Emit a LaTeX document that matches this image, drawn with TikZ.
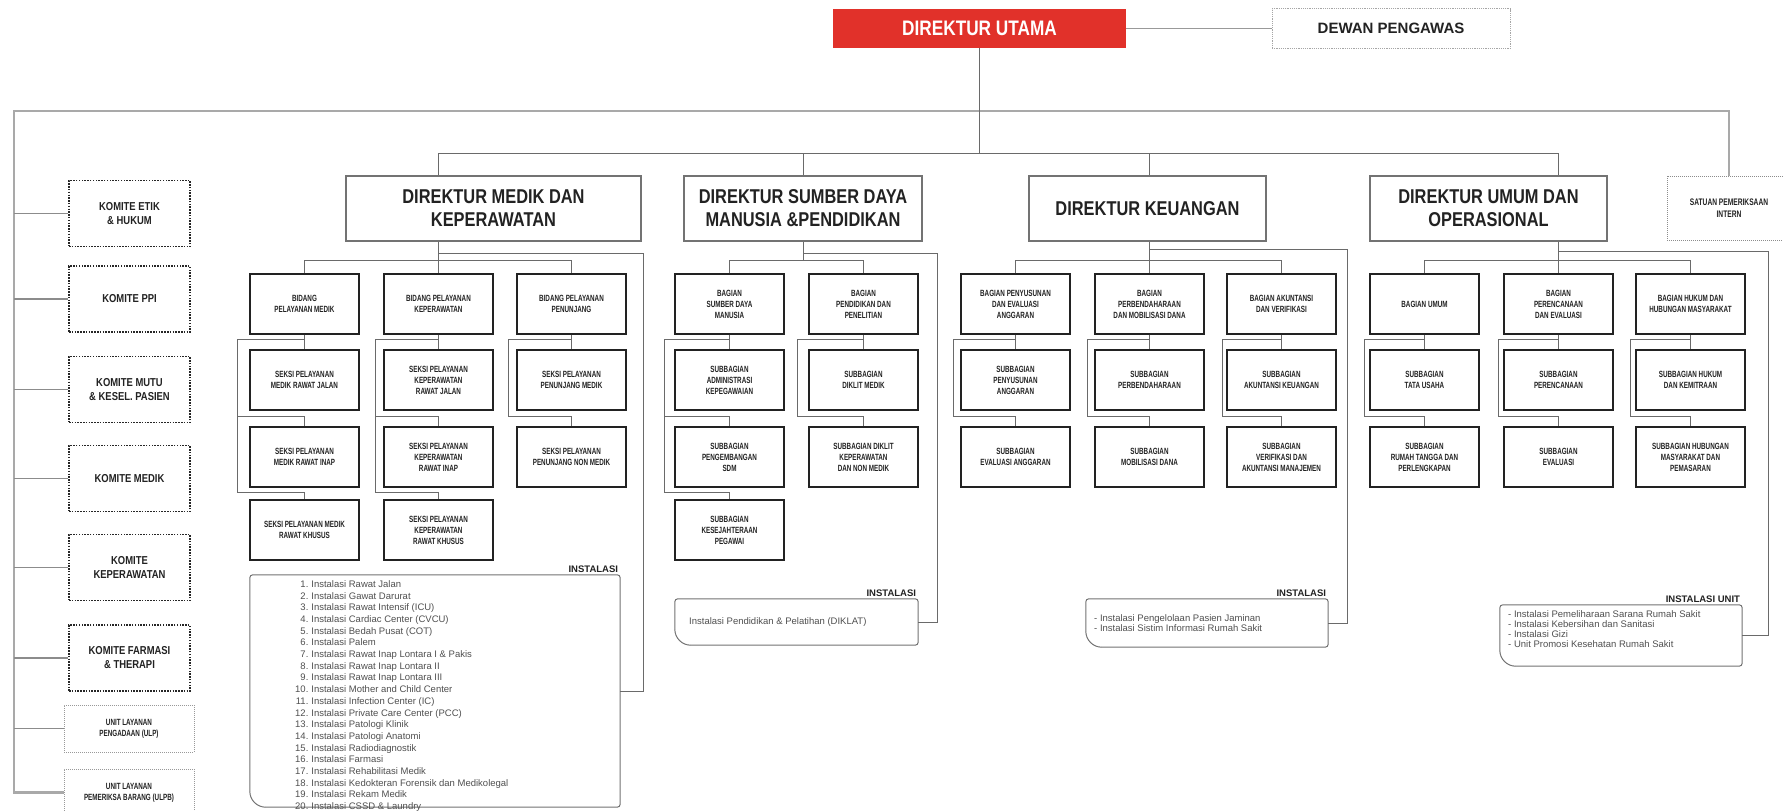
\documentclass[tikz,border=0pt]{standalone}
\usepackage{fontspec}
\setmainfont{Liberation Sans}
\newfontfamily\condfont[FakeStretch=0.82]{Liberation Sans}
\newfontfamily\narrowfont[FakeStretch=0.7]{Liberation Sans}
\usetikzlibrary{calc}
\definecolor{utama}{HTML}{E1312A}
\definecolor{ink}{HTML}{222222}
\definecolor{wire}{HTML}{6A6A6A}
\definecolor{trunkc}{HTML}{A9A9A9}
\definecolor{listc}{HTML}{505050}
% frame of an installation box: big round corner bottom left
\newcommand{\instframe}[1]{%
  \draw[iframe, rounded corners=3pt] ([xshift=16pt]#1.south west) -- (#1.south east)
    -- (#1.north east) -- (#1.north west) -- ([yshift=16pt]#1.south west);
  \draw[iframe] ([yshift=16pt]#1.south west) arc[start angle=180, end angle=270, radius=16pt];}

\begin{document}
\begin{tikzpicture}[
  x=1pt, y=-1pt,
  chief/.style={fill=utama, text=white, minimum width=293pt, minimum height=39pt,
                font=\condfont\bfseries\fontsize{21}{24}\selectfont},
  board/.style={draw=black!35, dash pattern=on 1.2pt off 1pt, line width=1pt,
                minimum width=238pt, minimum height=40pt, text=ink,
                font=\bfseries\fontsize{15}{18}\selectfont},
  dir/.style={draw=black!55, line width=1.3pt, minimum height=65pt, align=center,
              text=ink, font=\condfont\bfseries\fontsize{20}{23}\selectfont},
  unit/.style={draw=ink, line width=1.3pt, minimum width=109pt, minimum height=60pt,
               align=center, inner sep=2pt, text=ink,
               font=\narrowfont\bfseries\fontsize{9}{11}\selectfont},
  komite/.style={draw=black!85, line width=1.6pt, dash pattern=on 1.5pt off 1.3pt,
                 minimum width=121pt, minimum height=66pt, align=center, text=ink,
                 font=\condfont\bfseries\fontsize{11.5}{14}\selectfont},
  ulp/.style={draw=black!40, dash pattern=on 1pt off 1pt, line width=0.8pt,
              minimum width=130pt, minimum height=47pt, align=center, text=ink,
              font=\narrowfont\bfseries\fontsize{9}{11}\selectfont},
  spibox/.style={draw=black!45, dash pattern=on 1pt off 1pt, line width=1pt,
                 minimum width=124pt, minimum height=64pt, align=center, text=ink,
                 font=\narrowfont\bfseries\fontsize{9.5}{12}\selectfont},
  ibox/.style={inner sep=0pt},
  iframe/.style={draw=black!55, line width=1pt},
  ilabel/.style={font=\bfseries\fontsize{9.5}{11}\selectfont, text=ink, inner sep=2pt},
  ilist/.style={font=\fontsize{9.5}{10.3}\selectfont, text=listc, align=left, inner sep=0pt},
  wire/.style={draw=wire, line width=1pt},
  trunk/.style={draw=trunkc, line width=2.4pt},
  twig/.style={draw=black!45, line width=1.4pt},
]
\fill[white] (0,0) rectangle (1783,811);
\useasboundingbox (0,0) rectangle (1783,811);

\coordinate (tl) at (14,111);
\coordinate (tr) at (1729,111);
\coordinate (top) at (0,153);
\coordinate (bar) at (0,260);

% ============================================================ TOP
\node[chief] (du) at (979.5,28.5) {DIREKTUR UTAMA};
\node[board] (dp) at (1391,28.5) {DEWAN PENGAWAS};
\draw[wire, draw=black!40] (du) -- (dp);

\node[dir, minimum width=295pt] (dmk) at (493.5,208.5) {DIREKTUR MEDIK DAN\\KEPERAWATAN};
\node[dir, minimum width=238pt] (dsd) at (803,208.5) {DIREKTUR SUMBER DAYA\\MANUSIA \&PENDIDIKAN};
\node[dir, minimum width=237pt] (dku) at (1147.5,208.5) {DIREKTUR KEUANGAN};
\node[dir, minimum width=237pt] (dum) at (1488.5,208.5) {DIREKTUR UMUM DAN\\OPERASIONAL};
\node[spibox] (spi) at (1729,208) {SATUAN PEMERIKSAAN\\INTERN};

% ============================================================ KOMITE
\node[komite] (ketik)  at (129.5,213.5) {KOMITE ETIK\\\& HUKUM};
\node[komite] (kppi)   at (129.5,299)   {KOMITE PPI};
\node[komite] (kmutu)  at (129.5,389.5) {KOMITE MUTU\\\& KESEL. PASIEN};
\node[komite] (kmedik) at (129.5,478.5) {KOMITE MEDIK};
\node[komite] (kkep)   at (129.5,567.5) {KOMITE\\KEPERAWATAN};
\node[komite] (kfar)   at (129.5,658)   {KOMITE FARMASI\\\& THERAPI};
\node[ulp] (kulp)  at (129,728.5) {UNIT LAYANAN\\PENGADAAN (ULP)};
\node[ulp] (kulpb) at (129,792.5) {UNIT LAYANAN\\PEMERIKSA BARANG (ULPB)};

\draw[trunk] (kulpb.west) -| (tl) -- (tr) -- (spi.north);
\draw[twig] (tl |- ketik.west) -- (ketik.west);
\draw[twig] (tl |- kppi.west) -- (kppi.west);
\draw[twig] (tl |- kmutu.west) -- (kmutu.west);
\draw[twig] (tl |- kmedik.west) -- (kmedik.west);
\draw[twig] (tl |- kkep.west) -- (kkep.west);
\draw[twig] (tl |- kfar.west) -- (kfar.west);
\draw[twig] (tl |- kulp.west) -- (kulp.west);

% ============================================================ MEDIK DAN KEPERAWATAN
\node[unit] (bpm) at (304.5,304) {BIDANG\\PELAYANAN MEDIK};
\node[unit] (bpk) at (438.5,304) {BIDANG PELAYANAN\\KEPERAWATAN};
\node[unit] (bpn) at (571.5,304) {BIDANG PELAYANAN\\PENUNJANG};

\node[unit] (s1) at (304.5,380) {SEKSI PELAYANAN\\MEDIK RAWAT JALAN};
\node[unit] (s2) at (304.5,457) {SEKSI PELAYANAN\\MEDIK RAWAT INAP};
\node[unit] (s3) at (304.5,530) {SEKSI PELAYANAN MEDIK\\RAWAT KHUSUS};
\node[unit] (k1) at (438.5,380) {SEKSI PELAYANAN\\KEPERAWATAN\\RAWAT JALAN};
\node[unit] (k2) at (438.5,457) {SEKSI PELAYANAN\\KEPERAWATAN\\RAWAT INAP};
\node[unit] (k3) at (438.5,530) {SEKSI PELAYANAN\\KEPERAWATAN\\RAWAT KHUSUS};
\node[unit] (n1) at (571.5,380) {SEKSI PELAYANAN\\PENUNJANG MEDIK};
\node[unit] (n2) at (571.5,457) {SEKSI PELAYANAN\\PENUNJANG NON MEDIK};

\coordinate (sM1) at (237,416);  \coordinate (sM2) at (237,492);
\coordinate (sK1) at (375,416);  \coordinate (sK2) at (375,492);
\coordinate (sN)  at (508,416);
\coordinate (rM)  at (643,253);

\draw[wire] (bpm) -- (s1);
\draw[wire] ([yshift=10pt]s1.north) -| (sM2) -| (s3.north);
\draw[wire] (sM1) -| (s2.north);
\draw[wire] (bpk) -- (k1);
\draw[wire] ([yshift=10pt]k1.north) -| (sK2) -| (k3.north);
\draw[wire] (sK1) -| (k2.north);
\draw[wire] (bpn) -- (n1);
\draw[wire] ([yshift=10pt]n1.north) -| (sN) -| (n2.north);

\node[ibox, minimum width=370pt, minimum height=232pt] (iM) at (435,691) {};
\instframe{iM}
\node[ilabel, anchor=south east] (iMl) at (iM.north east) {INSTALASI};
\node[ilist, anchor=north west, font=\fontsize{9.5}{11.7}\selectfont] (iMt) at (295,579) {%
  \begin{tabular}{@{}r@{\hspace{3pt}}l@{}}
  1. & Instalasi Rawat Jalan\\
  2. & Instalasi Gawat Darurat\\
  3. & Instalasi Rawat Intensif (ICU)\\
  4. & Instalasi Cardiac Center (CVCU)\\
  5. & Instalasi Bedah Pusat (COT)\\
  6. & Instalasi Palem\\
  7. & Instalasi Rawat Inap Lontara I \& Pakis\\
  8. & Instalasi Rawat Inap Lontara II\\
  9. & Instalasi Rawat Inap Lontara III\\
  10. & Instalasi Mother and Child Center\\
  11. & Instalasi Infection Center (IC)\\
  12. & Instalasi Private Care Center (PCC)\\
  13. & Instalasi Patologi Klinik\\
  14. & Instalasi Patologi Anatomi\\
  15. & Instalasi Radiodiagnostik\\
  16. & Instalasi Farmasi\\
  17. & Instalasi Rehabilitasi Medik\\
  18. & Instalasi Kedokteran Forensik dan Medikolegal\\
  19. & Instalasi Rekam Medik\\
  20. & Instalasi CSSD \& Laundry
  \end{tabular}};

\draw[wire] (bpk.north |- dmk.south) -- (bpk);
\draw[wire] (bpm.north) |- (bpn.north |- bar) -- (bpn.north);
\draw[wire] (bpk.north |- rM) -- (rM) |- (iM.east);

% ============================================================ SUMBER DAYA MANUSIA
\node[unit] (bsd) at (729.5,304) {BAGIAN\\SUMBER DAYA\\MANUSIA};
\node[unit] (bpp) at (863.5,304) {BAGIAN\\PENDIDIKAN DAN\\PENELITIAN};

\node[unit] (a1) at (729.5,380) {SUBBAGIAN\\ADMINISTRASI\\KEPEGAWAIAN};
\node[unit] (a2) at (729.5,457) {SUBBAGIAN\\PENGEMBANGAN\\SDM};
\node[unit] (a3) at (729.5,530) {SUBBAGIAN\\KESEJAHTERAAN\\PEGAWAI};
\node[unit] (d1) at (863.5,380) {SUBBAGIAN\\DIKLIT MEDIK};
\node[unit] (d2) at (863.5,457) {SUBBAGIAN DIKLIT\\KEPERAWATAN\\DAN NON MEDIK};

\coordinate (sA1) at (664,416);  \coordinate (sA2) at (664,492);
\coordinate (sD)  at (797,416);
\coordinate (rS)  at (937,253);

\draw[wire] (bsd) -- (a1);
\draw[wire] ([yshift=10pt]a1.north) -| (sA2) -| (a3.north);
\draw[wire] (sA1) -| (a2.north);
\draw[wire] (bpp) -- (d1);
\draw[wire] ([yshift=10pt]d1.north) -| (sD) -| (d2.north);

\node[ibox, minimum width=243pt, minimum height=46pt] (iS) at (796.5,622) {};
\instframe{iS}
\node[ilabel, anchor=south east] (iSl) at (iS.north east) {INSTALASI};
\node[ilist, anchor=west] (iSt) at (689,622) {Instalasi Pendidikan \& Pelatihan (DIKLAT)};

\draw[wire] (dsd) -- (dsd |- bar);
\draw[wire] (bsd.north) |- (bpp.north |- bar) -- (bpp.north);
\draw[wire] (dsd.south |- rS) -- (rS) |- (iS.east);

% ============================================================ KEUANGAN
\node[unit] (bpa) at (1015.5,304) {BAGIAN PENYUSUNAN\\DAN EVALUASI\\ANGGARAN};
\node[unit] (bpb) at (1149.5,304) {BAGIAN\\PERBENDAHARAAN\\DAN MOBILISASI DANA};
\node[unit] (bav) at (1281.5,304) {BAGIAN AKUNTANSI\\DAN VERIFIKASI};

\node[unit] (e1) at (1015.5,380) {SUBBAGIAN\\PENYUSUNAN\\ANGGARAN};
\node[unit] (e2) at (1015.5,457) {SUBBAGIAN\\EVALUASI ANGGARAN};
\node[unit] (f1) at (1149.5,380) {SUBBAGIAN\\PERBENDAHARAAN};
\node[unit] (f2) at (1149.5,457) {SUBBAGIAN\\MOBILISASI DANA};
\node[unit] (v1) at (1281.5,380) {SUBBAGIAN\\AKUNTANSI KEUANGAN};
\node[unit] (v2) at (1281.5,457) {SUBBAGIAN\\VERIFIKASI DAN\\AKUNTANSI MANAJEMEN};

\coordinate (sE) at (953,416);
\coordinate (sF) at (1087,416);
\coordinate (sV) at (1222,416);
\coordinate (rK) at (1347,249);

\draw[wire] (bpa) -- (e1);
\draw[wire] ([yshift=10pt]e1.north) -| (sE) -| (e2.north);
\draw[wire] (bpb) -- (f1);
\draw[wire] ([yshift=10pt]f1.north) -| (sF) -| (f2.north);
\draw[wire] (bav) -- (v1);
\draw[wire] ([yshift=10pt]v1.north) -| (sV) -| (v2.north);

\node[ibox, minimum width=242pt, minimum height=48pt] (iK) at (1207,623) {};
\instframe{iK}
\node[ilabel, anchor=south east] (iKl) at (iK.north east) {INSTALASI};
\node[ilist, anchor=north west] (iKt) at (1094,614)
  {- Instalasi Pengelolaan Pasien Jaminan\\- Instalasi Sistim Informasi Rumah Sakit};

\draw[wire] (bpb.north |- dku.south) -- (bpb);
\draw[wire] (bpa.north) |- (bav.north |- bar) -- (bav.north);
\draw[wire] (bpb.north |- rK) -- (rK) |- (iK.east);

% ============================================================ UMUM DAN OPERASIONAL
\node[unit] (bum) at (1424.5,304) {BAGIAN UMUM};
\node[unit] (bpe) at (1558.5,304) {BAGIAN\\PERENCANAAN\\DAN EVALUASI};
\node[unit] (bhh) at (1690.5,304) {BAGIAN HUKUM DAN\\HUBUNGAN MASYARAKAT};

\node[unit] (u1) at (1424.5,380) {SUBBAGIAN\\TATA USAHA};
\node[unit] (u2) at (1424.5,457) {SUBBAGIAN\\RUMAH TANGGA DAN\\PERLENGKAPAN};
\node[unit] (p1) at (1558.5,380) {SUBBAGIAN\\PERENCANAAN};
\node[unit] (p2) at (1558.5,457) {SUBBAGIAN\\EVALUASI};
\node[unit] (h1) at (1690.5,380) {SUBBAGIAN HUKUM\\DAN KEMITRAAN};
\node[unit] (h2) at (1690.5,457) {SUBBAGIAN HUBUNGAN\\MASYARAKAT DAN\\PEMASARAN};

\coordinate (sU) at (1364,416);
\coordinate (sP) at (1498,416);
\coordinate (sH) at (1630,416);
\coordinate (rU) at (1768,251);

\draw[wire] (bum) -- (u1);
\draw[wire] ([yshift=10pt]u1.north) -| (sU) -| (u2.north);
\draw[wire] (bpe) -- (p1);
\draw[wire] ([yshift=10pt]p1.north) -| (sP) -| (p2.north);
\draw[wire] (bhh) -- (h1);
\draw[wire] ([yshift=10pt]h1.north) -| (sH) -| (h2.north);

\node[ibox, minimum width=242pt, minimum height=61pt] (iU) at (1621,635.5) {};
\instframe{iU}
\node[ilabel, anchor=south east] (iUl) at (iU.north east) {INSTALASI UNIT};
\node[ilist, anchor=north west] (iUt) at (1508,610)
  {- Instalasi Pemeliharaan Sarana Rumah Sakit\\- Instalasi Kebersihan dan Sanitasi\\- Instalasi Gizi\\- Unit Promosi Kesehatan Rumah Sakit};

\draw[wire] (bpe.north |- dum.south) -- (bpe);
\draw[wire] (bum.north) |- (bhh.north |- bar) -- (bhh.north);
\draw[wire] (bpe.north |- rU) -- (rU) |- (iU.east);

% ============================================================ DIREKTUR ROW
\draw[wire] (du) -- (du |- top);
\draw[wire] (bpk.north |- dmk.north) |- (bpe.north |- top) -- (bpe.north |- dum.north);
\draw[wire] (dsd) -- (dsd |- top);
\draw[wire] (bpb.north |- dku.north) -- (bpb.north |- top);

\end{tikzpicture}
\end{document}
